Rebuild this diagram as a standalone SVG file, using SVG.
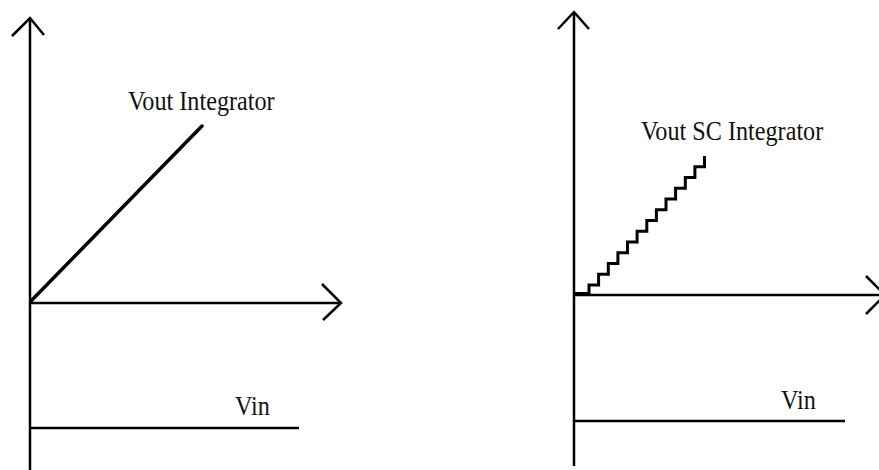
<svg xmlns="http://www.w3.org/2000/svg" width="879" height="470" viewBox="0 0 879 470">
<style>
.ax{fill:none;stroke:#000;stroke-width:2.5;stroke-linecap:butt;stroke-linejoin:miter}
.sig{fill:none;stroke:#000;stroke-width:3.5;stroke-linecap:round}
.stair{fill:none;stroke:#000;stroke-width:3;stroke-linejoin:miter}
.lbl{font-family:"Liberation Serif","Times New Roman",serif;font-size:24.2px;fill:#111}
</style>
<rect width="879" height="470" fill="#fff"/>
<g id="left-plot">
  <g id="left-axes">
    <line class="ax" x1="30" y1="19" x2="30" y2="470"/>
    <polyline class="ax" points="12,36 30,18 44,35"/>
    <line class="ax" x1="30" y1="303" x2="341" y2="303"/>
    <polyline class="ax" points="322,284 341,303 323,320"/>
  </g>
  <g id="left-vout">
    <line class="sig" x1="31" y1="301" x2="202" y2="126"/>
    <text class="lbl" transform="translate(128,110) scale(1,1.1)">Vout Integrator</text>
  </g>
  <g id="left-vin">
    <line class="ax" x1="30" y1="428" x2="299" y2="428"/>
    <text class="lbl" transform="translate(235,415) scale(1,1.1)">Vin</text>
  </g>
</g>
<g id="right-plot">
  <g id="right-axes">
    <line class="ax" x1="574" y1="13" x2="574" y2="466"/>
    <polyline class="ax" points="558,29 574,12 589,29"/>
    <line class="ax" x1="574" y1="295" x2="885" y2="295"/>
    <polyline class="ax" points="866,276 885,295 866,314"/>
  </g>
  <g id="right-vout">
    <path class="stair" d="M574,294 H589 V285 H598.6 V274.3 H608.3 V263.5 H617.9 V252.8 H627.5 V242 H637.1 V231.3 H646.8 V220.5 H656.4 V209.8 H666 V199 H675.6 V188.3 H685.3 V177.5 H694.9 V166.8 H704.5 V156"/>
    <rect x="574" y="292" width="15" height="4" fill="#000"/>
    <text class="lbl" transform="translate(641,140) scale(1,1.1)">Vout SC Integrator</text>
  </g>
  <g id="right-vin">
    <line class="ax" x1="574" y1="421" x2="845" y2="421"/>
    <text class="lbl" transform="translate(781,409) scale(1,1.1)">Vin</text>
  </g>
</g>
</svg>
